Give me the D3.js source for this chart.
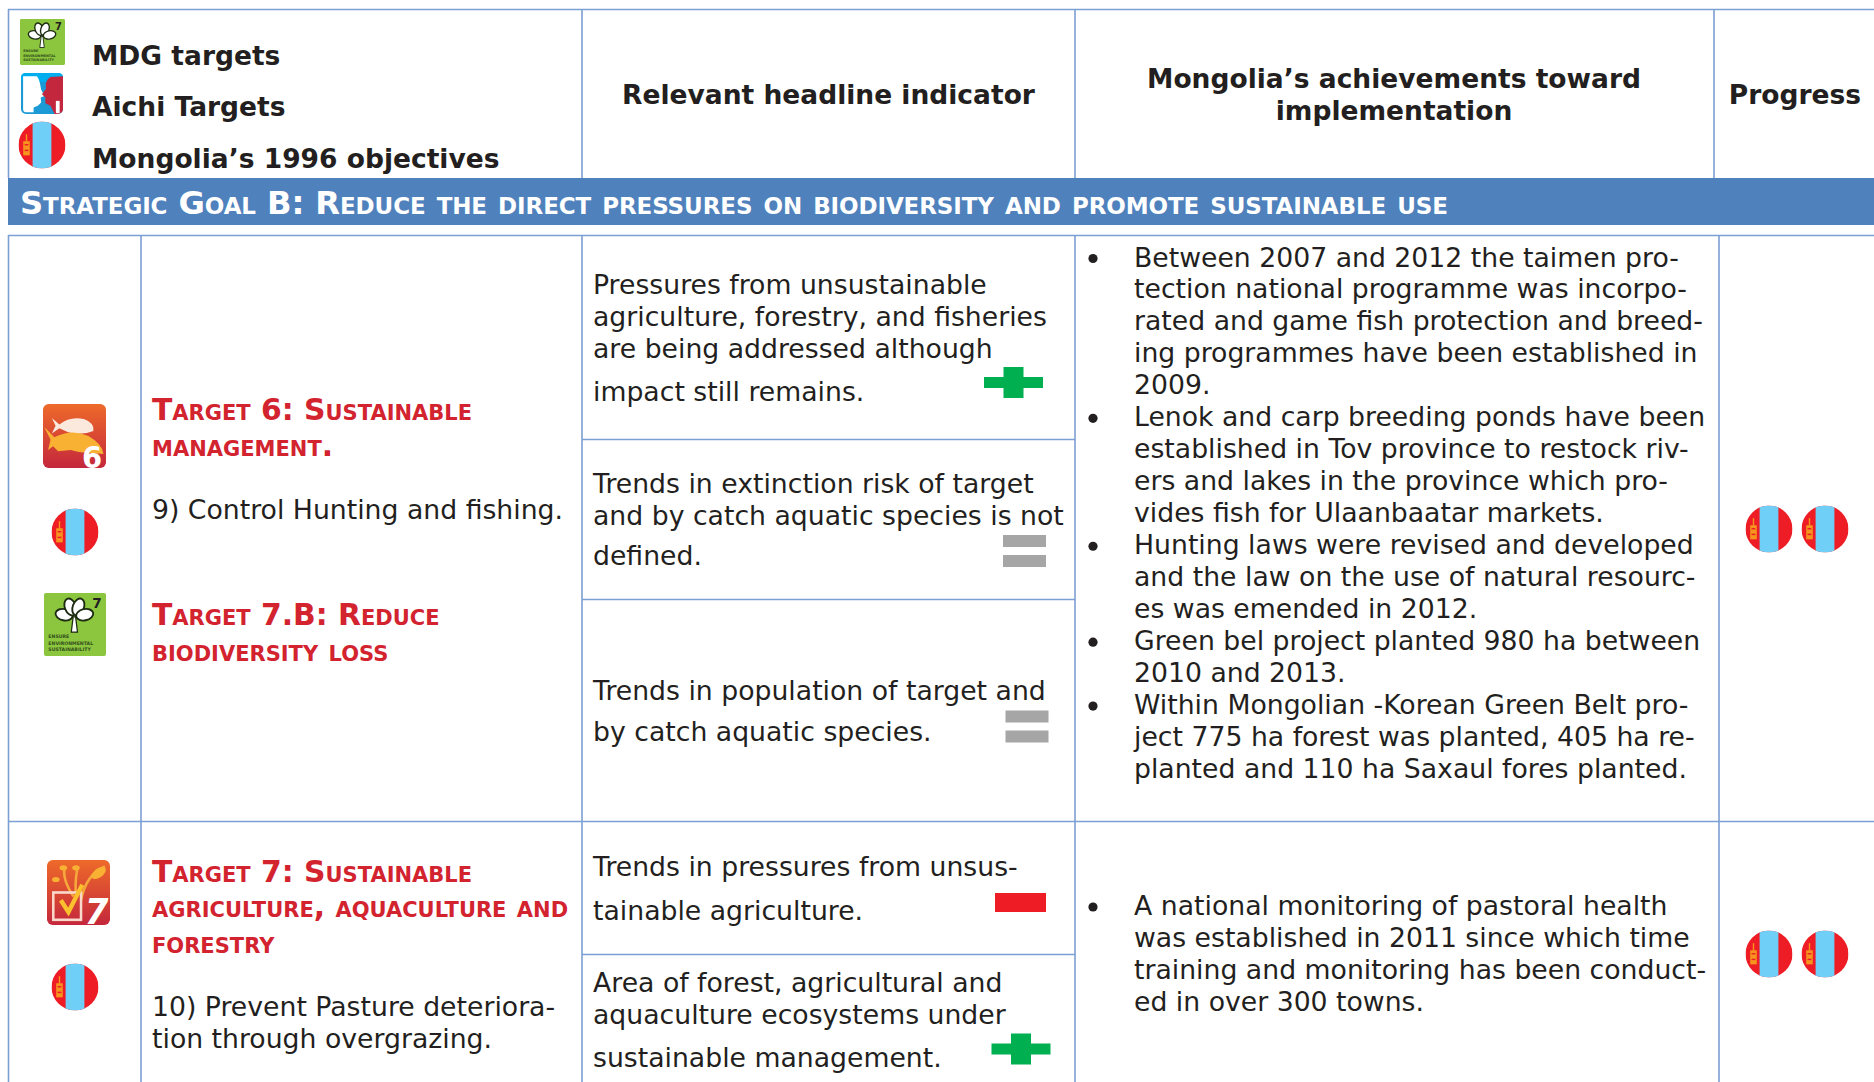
<!DOCTYPE html>
<html>
    <head>
        <title>Strategic Goal B</title>
        <meta charset="UTF-8">
        <script src="https://d3js.org/d3.v7.min.js" charset="utf-8"></script>
        <style>
            html, body { margin:0; padding:0; background:#fff; overflow:hidden; }
            text { font-family:"DejaVu Sans", Verdana, sans-serif; fill:#231f20; }
        </style>
    </head>
    <body>
        <script>
            // table content
            var legendLabels = ["MDG targets", "Aichi Targets", "Mongolia\u2019s 1996 objectives"];
            var headerCols = [["Relevant headline indicator"], ["Mongolia\u2019s achievements toward", "implementation"], ["Progress"]];
            var goalTitle = "Strategic Goal B: Reduce the direct pressures on biodiversity and promote sustainable use";

            var target6Title = ["Target 6: Sustainable", "management."];
            var target6Text = ["9) Control Hunting and fishing."];
            var target7bTitle = ["Target 7.B: Reduce", "biodiversity loss"];
            var target7Title = ["Target 7: Sustainable", "agriculture, aquaculture and", "forestry"];
            var target7Text = ["10) Prevent Pasture deteriora-", "tion through overgrazing."];

            var indicator1 = ["Pressures from unsustainable", "agriculture, forestry, and fisheries", "are being addressed although", "impact still remains."];
            var indicator2 = ["Trends in extinction risk of target", "and by catch aquatic species is not", "defined."];
            var indicator3 = ["Trends in population of target and", "by catch aquatic species."];
            var indicator4 = ["Trends in pressures from unsus-", "tainable agriculture."];
            var indicator5 = ["Area of forest, agricultural and", "aquaculture ecosystems under", "sustainable management."];
            var indicatorMarks = ["plus", "equal", "equal", "minus", "plus"];

            var achievements1 = [
                ["Between 2007 and 2012 the taimen pro-", "tection national programme was incorpo-", "rated and game fish protection and breed-", "ing programmes have been established in", "2009."],
                ["Lenok and carp breeding ponds have been", "established in Tov province to restock riv-", "ers and lakes in the province which pro-", "vides fish for Ulaanbaatar markets."],
                ["Hunting laws were revised and developed", "and the law on the use of natural resourc-", "es was emended in 2012."],
                ["Green bel project planted 980 ha between", "2010 and 2013."],
                ["Within Mongolian -Korean Green Belt pro-", "ject 775 ha forest was planted, 405 ha re-", "planted and 110 ha Saxaul fores planted."]
            ];
            var achievements2 = [
                ["A national monitoring of pastoral health", "was established in 2011 since which time", "training and monitoring has been conduct-", "ed in over 300 towns."]
            ];

            // page layout in picture pixels
            var fontBody = 26.7, fontHead = 26.5, lineColor = "#7c9fd3", red = "#d2232f";
            var svg = d3.select("body").append("svg").attr("width", 1874).attr("height", 1082);
            var defs = svg.append("defs");

            function gradient(id, top, bottom) {
                var g = defs.append("linearGradient").attr("id", id).attr("x1", 0).attr("x2", 0).attr("y1", 0).attr("y2", 1);
                g.append("stop").attr("offset", 0).attr("stop-color", top);
                g.append("stop").attr("offset", 1).attr("stop-color", bottom);
            }
            gradient("orangeRed", "#ee6a2a", "#c4273c");
            defs.append("clipPath").attr("id", "flagClip").append("ellipse").attr("cx", 50).attr("cy", 50).attr("rx", 50).attr("ry", 50);

            function hline(x1, x2, y, w) {
                svg.append("line").attr("x1", x1).attr("x2", x2).attr("y1", y).attr("y2", y)
                    .attr("stroke", lineColor).attr("stroke-width", w || 1.6);
            }
            function vline(x, y1, y2, w) {
                svg.append("line").attr("x1", x).attr("x2", x).attr("y1", y1).attr("y2", y2)
                    .attr("stroke", lineColor).attr("stroke-width", w || 1.6);
            }

            // draws lines of text through a data join, at the given baselines
            function block(lines, x, baselines, size, opts) {
                opts = opts || {};
                return svg.append("g").selectAll("text").data(lines).enter().append("text")
                    .attr("x", x)
                    .attr("y", function(d, i) { return baselines[i]; })
                    .attr("text-anchor", opts.anchor || "start")
                    .attr("font-size", size)
                    .attr("font-weight", opts.weight || "normal")
                    .style("font-variant", opts.caps ? "small-caps" : "normal")
                    .style("fill", opts.fill || "#231f20")
                    .text(function(d) { return d; });
            }
            function steps(start, step, n) {
                return d3.range(n).map(function(i) { return start + i * step; });
            }

            function flag(cx, cy) {
                var g = svg.append("g").attr("transform", "translate(" + (cx - 23.5) + "," + (cy - 23.5) + ") scale(0.47)");
                var c = g.append("g").attr("clip-path", "url(#flagClip)");
                c.append("rect").attr("width", 100).attr("height", 100).attr("fill", "#ee1c25");
                c.append("rect").attr("x", 30).attr("width", 40).attr("height", 100).attr("fill", "#6fcff6");
                c.append("rect").attr("x", 10).attr("y", 42).attr("width", 14).attr("height", 30).attr("fill", "#f7941d");
                c.append("rect").attr("x", 15.5).attr("y", 27).attr("width", 3).attr("height", 16).attr("fill", "#f7941d");
                c.append("rect").attr("x", 13).attr("y", 48).attr("width", 8).attr("height", 3).attr("fill", "#ee1c25");
                c.append("rect").attr("x", 13).attr("y", 60).attr("width", 8).attr("height", 3).attr("fill", "#ee1c25");
            }

            function box(x, y, w, h) {
                return svg.append("g").attr("transform", "translate(" + x + "," + y + ") scale(" + (w / 100) + "," + (h / 100) + ")");
            }

            function mdgIcon(x, y, w, h) {
                var g = box(x, y, w, h);
                g.append("rect").attr("width", 100).attr("height", 100).attr("rx", 3).attr("fill", "#8cc63f");
                [-78, -22, 22, 78].forEach(function(a) {
                    g.append("ellipse").attr("cx", 49).attr("cy", 21).attr("rx", 9).attr("ry", 14)
                        .attr("transform", "rotate(" + a + " 49 38)")
                        .attr("fill", "#fff").attr("stroke", "#1d2b12").attr("stroke-width", 3);
                });
                g.append("path").attr("d", "M47 38 L51 38 L54 62 L44 62 Z").attr("fill", "#fff").attr("stroke", "#1d2b12").attr("stroke-width", 2);
                g.append("text").attr("x", 78).attr("y", 24).attr("font-size", 22).attr("font-weight", "bold").text("7");
                ["ENSURE", "ENVIRONMENTAL", "SUSTAINABILITY"].forEach(function(t, i) {
                    g.append("text").attr("x", 7).attr("y", 72 + i * 10).attr("font-size", 7.5).attr("font-weight", "bold")
                        .style("fill", "#33501a").text(t);
                });
            }

            function aichiIcon(x, y, w, h) {
                var g = box(x, y, w, h);
                g.append("rect").attr("width", 100).attr("height", 100).attr("rx", 12).attr("fill", "#1b9ad6");
                g.append("rect").attr("width", 100).attr("height", 22).attr("rx", 10).attr("fill", "#00aeef");
                g.append("path").attr("d", "M5 8 L38 8 C46 20 46 32 48 40 L56 56 L47 60 L48 72 L40 80 L30 84 L30 96 L12 96 Q5 96 5 88 Z").attr("fill", "#fff");
                g.append("path").attr("d", "M100 8 L70 10 C58 18 58 30 60 38 L50 52 L58 60 L58 74 L70 80 L80 100 L88 100 Q100 98 100 88 Z").attr("fill", "#c2273d");
                g.append("rect").attr("x", 83).attr("y", 68).attr("width", 9).attr("height", 30).attr("fill", "#fff");
            }

            function fishIcon(x, y, w, h) {
                var g = box(x, y, w, h);
                g.append("rect").attr("width", 100).attr("height", 100).attr("rx", 9).attr("fill", "url(#orangeRed)");
                g.append("path").attr("d", "M14 22 L26 32 Q44 18 66 24 Q82 30 80 42 Q60 50 40 44 L26 38 L14 46 L20 34 Z").attr("fill", "#fbe9dd");
                g.append("path").attr("d", "M2 36 L18 52 Q46 38 72 50 Q94 62 96 78 L72 76 Q56 76 44 72 L24 74 L16 66 L8 72 L12 56 Z").attr("fill", "#f8b133");
                g.append("text").attr("x", 62).attr("y", 100).attr("font-size", 46).attr("font-weight", "bold").style("fill", "#fff").text("6");
            }

            function agriIcon(x, y, w, h) {
                var g = box(x, y, w, h);
                g.append("rect").attr("width", 100).attr("height", 100).attr("rx", 9).attr("fill", "url(#orangeRed)");
                g.append("path").attr("d", "M28 12 Q24 30 42 56 M48 14 Q44 34 46 58 M92 10 Q62 22 54 62").attr("fill", "none").attr("stroke", "#f6a83c").attr("stroke-width", 4);
                g.append("ellipse").attr("cx", 82).attr("cy", 20).attr("rx", 13).attr("ry", 7).attr("transform", "rotate(-35 82 20)").attr("fill", "#f8b133");
                g.append("ellipse").attr("cx", 26).attr("cy", 12).attr("rx", 6).attr("ry", 4).attr("fill", "#f8b133");
                g.append("ellipse").attr("cx", 46).attr("cy", 12).attr("rx", 6).attr("ry", 4).attr("fill", "#f8b133");
                g.append("ellipse").attr("cx", 14).attr("cy", 30).attr("rx", 6).attr("ry", 4).attr("fill", "#f8b133");
                g.append("rect").attr("x", 10).attr("y", 50).attr("width", 44).attr("height", 42).attr("fill", "none").attr("stroke", "#f9d9cc").attr("stroke-width", 4);
                g.append("path").attr("d", "M22 62 L34 80 L56 38").attr("fill", "none").attr("stroke", "#fbc02d").attr("stroke-width", 7);
                g.append("text").attr("x", 60).attr("y", 98).attr("font-size", 54).attr("font-weight", "bold").attr("font-style", "italic").style("fill", "#fff").text("7");
            }

            function mark(type, cx, cy) {
                var g = svg.append("g").attr("transform", "translate(" + cx + "," + cy + ")");
                if (type === "plus") {
                    g.append("rect").attr("x", -29.5).attr("y", -5.5).attr("width", 59).attr("height", 11).attr("fill", "#00b050");
                    g.append("rect").attr("x", -10).attr("y", -15.5).attr("width", 20).attr("height", 31).attr("fill", "#00b050");
                } else if (type === "equal") {
                    g.append("rect").attr("x", -21.5).attr("y", -15.5).attr("width", 43).attr("height", 12).attr("fill", "#a6a6a6");
                    g.append("rect").attr("x", -21.5).attr("y", 4.5).attr("width", 43).attr("height", 12).attr("fill", "#a6a6a6");
                } else {
                    g.append("rect").attr("x", -25.5).attr("y", -9.5).attr("width", 51).attr("height", 19).attr("fill", "#ee1c25");
                }
            }

            // banner and rules
            svg.append("rect").attr("x", 8).attr("y", 178).attr("width", 1866).attr("height", 47).attr("fill", "#4f81bd");
            hline(8, 1874, 9.5);
            vline(8.5, 9, 178); vline(582, 9, 178); vline(1075, 9, 178); vline(1714, 9, 178);
            hline(8, 1874, 235.5); hline(8, 1874, 821.5);
            hline(582, 1075, 439.5); hline(582, 1075, 599.5); hline(582, 1075, 954.5);
            vline(8.5, 235, 1082); vline(141, 235, 1082); vline(582, 235, 1082); vline(1075, 235, 1082); vline(1719, 235, 1082);

            // header
            block(legendLabels, 92, [65, 116, 168], fontHead, { weight: "bold" });
            block(headerCols[0], 828.5, [104], fontHead, { weight: "bold", anchor: "middle" });
            block(headerCols[1], 1394, [88, 120], fontHead, { weight: "bold", anchor: "middle" });
            block(headerCols[2], 1795, [104], fontHead, { weight: "bold", anchor: "middle" });
            block([goalTitle], 20, [214], 32.2, { weight: "bold", caps: true, fill: "#fff" }).attr("textLength", 1428);

            // target column
            block(target6Title, 152, [420, 456], 29.8, { weight: "bold", caps: true, fill: red });
            block(target6Text, 152, [519], fontBody);
            block(target7bTitle, 152, [625, 661], 29.8, { weight: "bold", caps: true, fill: red });
            block(target7Title, 152, [882, 917, 953], 29.8, { weight: "bold", caps: true, fill: red });
            block(target7Text, 152, [1016, 1048], fontBody);

            // indicator column
            block(indicator1, 593, [293.5, 325.5, 357.5, 401], fontBody);
            block(indicator2, 593, [493, 525, 565], fontBody);
            block(indicator3, 593, [700, 741], fontBody);
            block(indicator4, 593, [876, 920], fontBody);
            block(indicator5, 593, [992, 1024, 1067], fontBody);
            var markAt = [[1013.5, 382.5], [1024.5, 550.5], [1027, 726], [1020.5, 902.5], [1021, 1049]];
            indicatorMarks.forEach(function(t, i) { mark(t, markAt[i][0], markAt[i][1]); });

            // achievements column
            function bullets(groups, startY) {
                var n = 0;
                groups.forEach(function(lines) {
                    var ys = steps(startY + n * 31.97, 31.97, lines.length);
                    svg.append("circle").attr("cx", 1093).attr("cy", ys[0] - 8).attr("r", 4.6).attr("fill", "#231f20");
                    block(lines, 1134, ys, fontBody);
                    n += lines.length;
                });
            }
            bullets(achievements1, 266.5);
            bullets(achievements2, 915);

            // icons
            mdgIcon(20, 19, 45, 46);
            aichiIcon(21, 73, 42, 41);
            flag(42, 145);
            fishIcon(43, 404, 63, 64);
            flag(75, 532);
            mdgIcon(44, 593, 62, 63);
            agriIcon(47, 860, 63, 65);
            flag(75, 987);
            flag(1769, 529); flag(1825, 529);
            flag(1769, 954); flag(1825, 954);
        </script>
    </body>
</html>
